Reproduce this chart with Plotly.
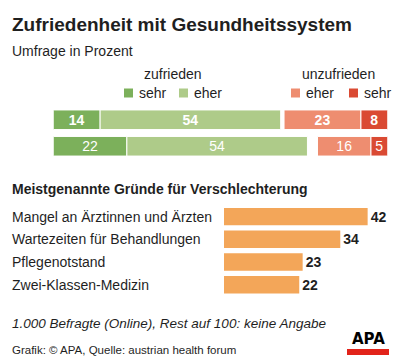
import plotly.graph_objects as go

# page body has an 8px default margin; figure occupies 392x356 starting at (8,8)
OFF = 8
W, H = 400 - OFF, 364 - OFF
FONT = "Liberation Sans, Arial, sans-serif"
DARK = "#1f1f1f"

# ---- data ----
years = ["2023", "2019"]
zuf_sehr = [14, 22]
zuf_eher = [54, 54]
unz_eher = [23, 16]
unz_sehr = [8, 5]

reasons = ["Mangel an Ärztinnen und Ärzten", "Wartezeiten für Behandlungen",
           "Pflegenotstand", "Zwei-Klassen-Medizin"]
reason_vals = [42, 34, 23, 22]

C_ZS, C_ZE, C_UE, C_US = "#7cb05b", "#aecb89", "#ee8d70", "#da4a33"
C_OR = "#f3a659"

def px(x):
    return (x - OFF) / W

def py(y):
    return 1 - (y - OFF) / H

fig = go.Figure()

def bold_if_first(vals):
    return [f"<b>{v}</b>" if i == 0 else f"{v}" for i, v in enumerate(vals)]

# top stacked bars: satisfied from left, dissatisfied right-aligned at 100
base_ze = zuf_sehr
base_ue = [100 - a - b for a, b in zip(unz_eher, unz_sehr)]
base_us = [100 - b for b in unz_sehr]
for vals, base, col in [(zuf_sehr, [0, 0], C_ZS), (zuf_eher, base_ze, C_ZE),
                        (unz_eher, base_ue, C_UE), (unz_sehr, base_us, C_US)]:
    fig.add_trace(go.Bar(
        x=vals, y=years, base=base, orientation="h", width=0.74,
        marker=dict(color=col, line=dict(color="white", width=1)),
        text=bold_if_first(vals), textposition="inside", insidetextanchor="middle",
        textangle=0, constraintext="none",
        textfont=dict(family=FONT, size=14, color="white"),
        xaxis="x", yaxis="y", showlegend=False, hoverinfo="skip", cliponaxis=False))

# bottom bars
fig.add_trace(go.Bar(
    x=reason_vals, y=reasons, orientation="h", width=0.77,
    marker=dict(color=C_OR, line=dict(width=0)),
    texttemplate="<b>%{x}</b>", textposition="outside", constraintext="none",
    textfont=dict(family=FONT, size=14, color=DARK),
    xaxis="x2", yaxis="y2", showlegend=False, hoverinfo="skip", cliponaxis=False))

ann = []
def txt(x, y, s, size, bold=False, italic=False, xanchor="left", color=DARK,
        xref="paper", yref="paper"):
    if bold:
        s = f"<b>{s}</b>"
    if italic:
        s = f"<i>{s}</i>"
    ann.append(dict(x=x, y=y, xref=xref, yref=yref, text=s, showarrow=False,
                    xanchor=xanchor, yanchor="middle",
                    font=dict(family=FONT, size=size, color=color)))

txt(px(10), py(24), "Zufriedenheit mit Gesundheitssystem", 19, bold=True)
txt(px(10), py(51), "Umfrage in Prozent", 14)

# legend
txt(px(173), py(74), "zufrieden", 14, xanchor="center")
txt(px(338), py(74), "unzufrieden", 14, xanchor="center")
shapes = []
leg = [(124, C_ZS, "sehr"), (179, C_ZE, "eher"), (291, C_UE, "eher"), (349, C_US, "sehr")]
for x0, col, lab in leg:
    shapes.append(dict(type="rect", xref="paper", yref="paper",
                       x0=px(x0), x1=px(x0 + 9), y0=py(97.5), y1=py(88.5),
                       fillcolor=col, line=dict(width=0)))
    txt(px(x0 + 12.5), py(92.5), lab, 14)

# year labels
for i, yr in enumerate(years):
    txt(px(42), yr, yr, 14, bold=(i == 0), xanchor="right", yref="y")

txt(px(10), py(189), "Meistgenannte Gründe für Verschlechterung", 14, bold=True)
for r in reasons:
    txt(px(10), r, r, 14, yref="y2")

txt(px(10), py(323), "1.000 Befragte (Online), Rest auf 100: keine Angabe", 13.5, italic=True)
txt(px(10), py(350), "Grafik: © APA, Quelle: austrian health forum", 11.5)

# APA logo
shapes.append(dict(type="rect", xref="paper", yref="paper",
                   x0=px(347), x1=px(389), y0=py(355), y1=py(349),
                   fillcolor="#e2231a", line=dict(width=0)))
ann.append(dict(x=px(368), y=py(349.5), xref="paper", yref="paper", text="<b>APA</b>",
                showarrow=False, xanchor="center", yanchor="bottom",
                font=dict(family="DejaVu Sans, sans-serif", size=15, color="black")))

# top axis: 53.3..387.7 px = 0..100 ; rows centered 119.5 and 146
fig.update_layout(
    width=W, height=H, margin=dict(l=0, r=0, t=0, b=0),
    paper_bgcolor="white", plot_bgcolor="white", barmode="overlay",
    xaxis=dict(domain=[px(53.3), px(387.7)], range=[0, 100], visible=False, fixedrange=True),
    yaxis=dict(domain=[py(159.5), py(106.5)], range=[1.5, -0.5], visible=False,
               type="category", fixedrange=True),
    xaxis2=dict(domain=[px(224), 1], range=[0, (400 - 224) / 3.42], visible=False,
                fixedrange=True),
    yaxis2=dict(domain=[py(296), py(205.3)], range=[3.5, -0.5], visible=False,
                type="category", fixedrange=True),
    annotations=ann, shapes=shapes,
)

fig.write_html("out.html")
